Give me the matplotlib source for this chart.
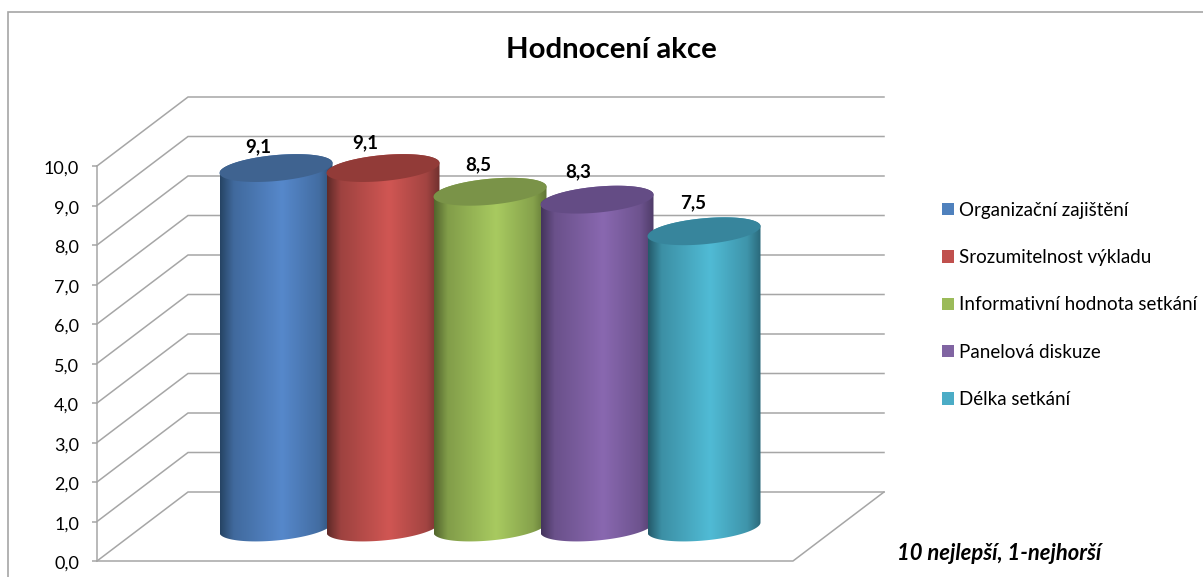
import numpy as np
import matplotlib
matplotlib.use('Agg')
import matplotlib.pyplot as plt
from matplotlib.colors import LinearSegmentedColormap
from matplotlib.patches import Patch, Polygon, Rectangle
from matplotlib.transforms import ScaledTranslation

plt.rcParams['font.family'] = ['Lato', 'DejaVu Sans']

categories = ['Organizační zajištění', 'Srozumitelnost výkladu', 'Informativní hodnota setkání',
              'Panelová diskuze', 'Délka setkání']
values = [9.1, 9.1, 8.5, 8.3, 7.5]
value_labels = ['9,1', '9,1', '8,5', '8,3', '7,5']
y_ticks = [0, 1, 2, 3, 4, 5, 6, 7, 8, 9, 10]
y_tick_labels = ['0,0', '1,0', '2,0', '3,0', '4,0', '5,0', '6,0', '7,0', '8,0', '9,0', '10,0']

legend_colors = ['#4f81bd', '#c0504d', '#9bbb59', '#8064a2', '#4bacc6']
center_colors = ['#5688cb', '#d05653', '#a8ca60', '#8968b0', '#50bbd5']
edge_colors = ['#264464', '#5f2a28', '#52652d', '#44345c', '#245a6a']
top_colors = ['#3f6390', '#923b38', '#7a9348', '#644c85', '#37859c']
label_offsets = [(-18, 21), (-18, 25), (-12, 27), (-19, 28), (-11, 29)]

W, H = 1203, 577
GRAY = '#a6a6a6'

# meritko: jedna kategorie = 107 px, jedna jednotka osy y = 39.5 px
px_x = 107.0
px_y = 39.5
x_zero = 276.0
y_zero = 561.0

fig = plt.figure(figsize=(W / 100, H / 100), dpi=100)
ax = fig.add_axes([0, 0, 1, 1])
ax.patch.set_alpha(0)

x_front = (97 - x_zero) / px_x
x_front_right = (793 - x_zero) / px_x
depth_x = 91 / px_x
depth_y = 69 / px_y
x_back_right = x_front_right + depth_x

# steny a podlaha
for v in y_ticks:
    ax.plot([x_front, x_front + depth_x, x_back_right], [v, v + depth_y, v + depth_y],
            color=GRAY, lw=1.1, zorder=1, solid_joinstyle='miter')
ax.plot([x_front, x_front_right, x_back_right], [0, 0, depth_y], color=GRAY, lw=1.1, zorder=1)

# valce
half_w = 56.5 / px_x
minor = 13 / px_y
shear = 5 / px_y
base_y = 33.5 / px_y
t = np.linspace(0, 2 * np.pi, 200)

def ellipse(cx, cy, tt):
    return np.column_stack([cx + half_w * np.cos(tt), cy + shear * np.cos(tt) + minor * np.sin(tt)])

# prubeh stinovani zleva doprava (0 = okraj, 1 = stred)
grad = np.interp(np.linspace(0, 1, 256), [0, 0.12, 0.55, 0.88, 1], [0, 0.55, 1, 0.6, 0.15])[None, :]

for i, v in enumerate(values):
    top_y = base_y + v
    lower = ellipse(i, base_y, np.linspace(np.pi, 2 * np.pi, 100))
    upper = ellipse(i, top_y, np.linspace(0, np.pi, 100))
    body = Polygon(np.vstack([lower, upper]), closed=True, fc='none', ec='none', zorder=3 + i)
    ax.add_patch(body)
    cmap = LinearSegmentedColormap.from_list('c%d' % i, [edge_colors[i], center_colors[i]])
    im = ax.imshow(grad, cmap=cmap, vmin=0, vmax=1, aspect='auto', interpolation='bilinear',
                   extent=[i - half_w, i + half_w, base_y - 1, top_y + 1], zorder=3 + i)
    im.set_clip_path(body)
    ax.add_patch(Polygon(ellipse(i, top_y, t), closed=True, fc=top_colors[i], ec='none', zorder=3 + i))
    ax.annotate(value_labels[i], (i, top_y), xytext=(label_offsets[i][0] * 0.72, label_offsets[i][1] * 0.72),
                textcoords='offset points', ha='center', va='center', fontsize=13.5, fontweight='bold',
                color='black', zorder=20)

ax.set_xlim(-x_zero / px_x, (W - x_zero) / px_x)
ax.set_ylim((y_zero - H) / px_y, y_zero / px_y)

# osa y
for s in ['top', 'right', 'bottom']:
    ax.spines[s].set_visible(False)
ax.spines['left'].set_position(('data', x_front))
ax.spines['left'].set_bounds(0, 10)
ax.spines['left'].set_color(GRAY)
ax.spines['left'].set_linewidth(1.1)
ax.set_xticks([])
ax.set_yticks(y_ticks)
ax.set_yticklabels(y_tick_labels, fontsize=13)
ax.tick_params(axis='y', color=GRAY, width=1.1, length=3.6, pad=9.4)
shift = ScaledTranslation(0, -1.5 / 100, fig.dpi_scale_trans)
for lab in ax.get_yticklabels():
    lab.set_transform(lab.get_transform() + shift)

# ramecek grafu
fig.add_artist(Rectangle((8 / W, -0.05), 1.1, 1 - 12 / H + 0.05, transform=fig.transFigure,
                         fc='none', ec=GRAY, lw=1.2))

fig.text(611 / W, 1 - 50 / H, 'Hodnocení akce', ha='center', va='center', fontsize=21.2, fontweight='bold')
fig.text(897 / W, 1 - 553 / H, '10 nejlepší, 1-nejhorší', ha='left', va='center', fontsize=15.8,
         fontweight='bold', fontstyle='italic')

handles = [Patch(fc=c, ec='none') for c in legend_colors]
fig.legend(handles, categories, loc='center left', bbox_to_anchor=(942 / W, 1 - 305 / H), frameon=False,
           fontsize=13.5, labelspacing=1.62, handlelength=0.64, handleheight=0.64, handletextpad=0.26,
           borderpad=0, borderaxespad=0)

plt.savefig('out.png', dpi=100)
